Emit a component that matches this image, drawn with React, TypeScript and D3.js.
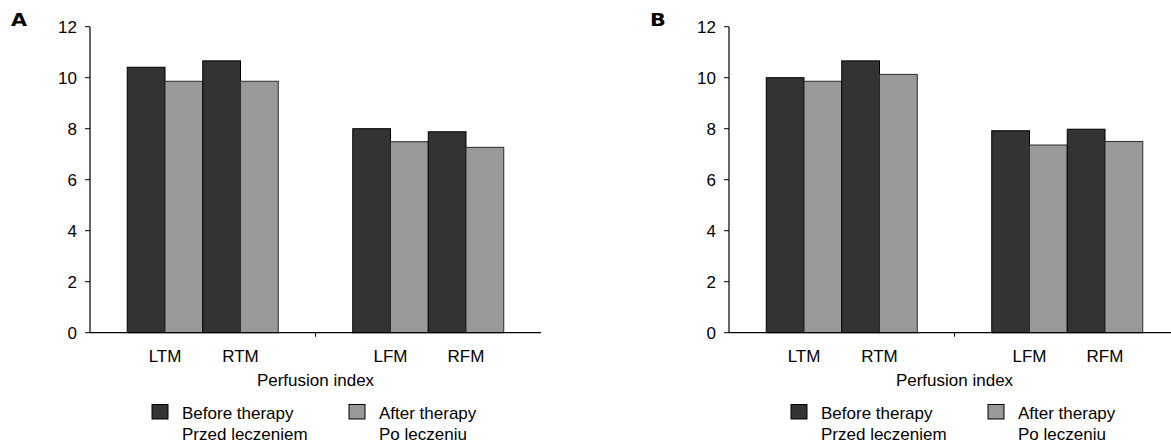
import React from "react";
import * as d3 from "d3";

const regions = ["Temporal", "Frontal"];
const regionCategories = [["LTM", "RTM"], ["LFM", "RFM"]];
const seriesNames = ["Before therapy", "After therapy"];
const seriesPolish = ["Przed leczeniem", "Po leczeniu"];
const seriesColors = ["#333333", "#999999"];
const seriesStroke = ["#000000", "#2a2a2a"];
const yTicks = [0, 2, 4, 6, 8, 10, 12];
const axisTitle = "Perfusion index";

// values in order LTM, RTM, LFM, RFM
const panelABefore = [10.41, 10.66, 8.0, 7.88];
const panelAAfter = [9.86, 9.86, 7.49, 7.27];
const panelBBefore = [10.0, 10.66, 7.92, 7.98];
const panelBAfter = [9.86, 10.13, 7.36, 7.5];
const panelLabels = ["A", "B"];

const FONT = "'Liberation Sans', Arial, sans-serif";

function Panel({ ox, label, before, after }: { ox: number; label: string; before: number[]; after: number[] }) {
  const x0 = 90 + ox;
  const x1 = x0 + 451;
  const yTop = 26.7;
  const yBase = 332.7;
  const y = d3.scaleLinear().domain([0, 12]).range([yBase, yTop]);
  const xr = d3.scaleBand().domain(regions).range([x0, x1]).padding(0);
  const xc = d3.scaleBand().domain(["0", "1"]).range([0, xr.bandwidth()]).paddingInner(0).paddingOuter(0.4934);
  const xs = d3.scaleBand().domain(seriesNames).range([0, xc.bandwidth()]).padding(0);
  const seriesVals = [before, after];

  const bars: any[] = [];
  const catLabels: any[] = [];
  regions.forEach((r, ri) => {
    regionCategories[ri].forEach((c, ci) => {
      const idx = ri * 2 + ci;
      const cx = (xr(r) as number) + (xc(String(ci)) as number);
      catLabels.push(
        <text key={c} x={cx + xc.bandwidth() / 2} y={362} textAnchor="middle" fontSize={17} fontFamily={FONT}>{c}</text>
      );
      seriesNames.forEach((s, si) => {
        const v = seriesVals[si][idx];
        const bx = cx + (xs(s) as number);
        bars.push(
          <rect key={c + s} x={bx} y={y(v)} width={xs.bandwidth()} height={yBase - y(v)}
            fill={seriesColors[si]} stroke={seriesStroke[si]} strokeWidth={1} />
        );
      });
    });
  });

  const legX = [152 + ox, 349 + ox];
  return (
    <g>
      <text x={11 + ox} y={26} fontSize={18} fontWeight={900} fontFamily="'DejaVu Sans', sans-serif"
        transform={`translate(${11 + ox},0) scale(1.15,1) translate(${-(11 + ox)},0)`}>{label}</text>
      {bars}
      <line x1={x0} x2={x0} y1={yTop} y2={yBase} stroke="#000" strokeWidth={1.2} />
      <line x1={x0} x2={x1} y1={yBase} y2={yBase} stroke="#000" strokeWidth={1.2} />
      <line x1={xr("Frontal") as number} x2={xr("Frontal") as number} y1={yBase} y2={yBase + 4} stroke="#000" strokeWidth={1} />
      {yTicks.map((t) => (
        <g key={t}>
          <line x1={x0 - 5} x2={x0} y1={y(t)} y2={y(t)} stroke="#000" strokeWidth={1} />
          <text x={x0 - 13} y={y(t)} dy="0.36em" textAnchor="end" fontSize={17} fontFamily={FONT}>{t}</text>
        </g>
      ))}
      {catLabels}
      <text x={(xr("Frontal") as number)} y={386} textAnchor="middle" fontSize={17} fontFamily={FONT}>{axisTitle}</text>
      {seriesNames.map((s, si) => (
        <g key={s}>
          <rect x={legX[si]} y={404.5} width={16} height={14.5} fill={seriesColors[si]} stroke="#000" strokeWidth={1} />
          <text x={legX[si] + 30} y={419} fontSize={17} fontFamily={FONT}>{s}</text>
          <text x={legX[si] + 30} y={440} fontSize={17} fontFamily={FONT}>{seriesPolish[si]}</text>
        </g>
      ))}
    </g>
  );
}

export default function App() {
  return (
    <svg width={1171} height={444} style={{ position: "absolute", left: 0, top: 0, background: "#fff" }}>
      <rect width={1171} height={444} fill="#fff" />
      <Panel ox={0} label={panelLabels[0]} before={panelABefore} after={panelAAfter} />
      <Panel ox={639} label={panelLabels[1]} before={panelBBefore} after={panelBAfter} />
    </svg>
  );
}
